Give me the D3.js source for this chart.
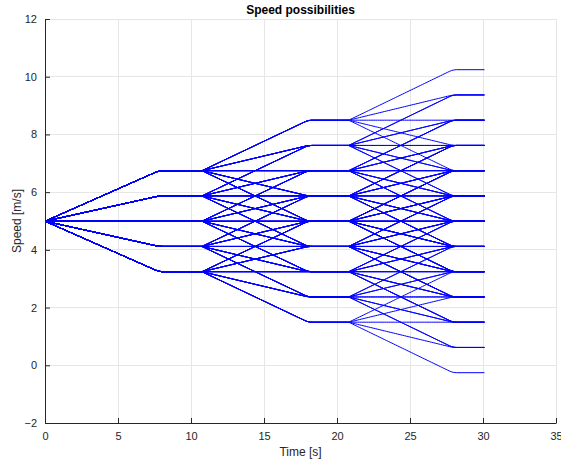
<!DOCTYPE html>
<html>
<head>
<meta charset="utf-8">
<script src="https://cdn.jsdelivr.net/npm/d3@7"></script>
<style>
  body { margin: 0; background: #fff; }
  svg { display: block; font-family: "Liberation Sans", Arial, Helvetica, sans-serif; }
</style>
</head>
<body>
<svg id="chart" width="561" height="464"></svg>
<script>
// ---- data ----
const initialSpeed = 5;                 // m/s
const speedStep = 0.875;                // m/s per level
const levelChanges = [-2, -1, 0, 1, 2]; // allowed level changes per stage
// stage timing: transition start and transition end (plateau start)
const transitionStarts = [0, 10.75, 20.8];
const transitionEnds = [8.1, 18.3, 28.2];
const endTime = 30.1;
const xTicks = [0, 5, 10, 15, 20, 25, 30, 35];
const yTicks = [-2, 0, 2, 4, 6, 8, 10, 12];

// ---- layout ----
const svg = d3.select("#chart");
const margin = { left: 45, right: 5, top: 19, bottom: 41 };
const W = 561, H = 464;
const x = d3.scaleLinear().domain([0, 35]).range([margin.left, W - margin.right]);
const y = d3.scaleLinear().domain([-2, 12]).range([H - margin.bottom, margin.top]);

// grid
svg.append("g").selectAll("line").data(xTicks).join("line")
  .attr("x1", d => x(d)).attr("x2", d => x(d))
  .attr("y1", y(-2)).attr("y2", y(12))
  .attr("stroke", "#e6e6e6").attr("stroke-width", 1).attr("shape-rendering", "crispEdges");
svg.append("g").selectAll("line").data(yTicks).join("line")
  .attr("x1", x(0)).attr("x2", x(35))
  .attr("y1", d => y(d)).attr("y2", d => y(d))
  .attr("stroke", "#e6e6e6").attr("stroke-width", 1).attr("shape-rendering", "crispEdges");

// ---- paths ----
const smoothFrac = 0.07;
const kSlope = 1 / (1 - smoothFrac / 2);
function ease(s) {
  if (s <= 1 - smoothFrac) return kSlope * s;
  const u = s - (1 - smoothFrac);
  return kSlope * (1 - smoothFrac) + kSlope * (u - u * u / (2 * smoothFrac));
}

function buildPath(changes) {
  const pts = [];
  let lvl = 0;
  for (let st = 0; st < changes.length; st++) {
    const t0 = transitionStarts[st], t1 = transitionEnds[st];
    const from = lvl, to = lvl + changes[st];
    const n = 60;
    for (let i = 0; i <= n; i++) {
      const s = i / n;
      pts.push([t0 + (t1 - t0) * s, initialSpeed + speedStep * (from + (to - from) * ease(s))]);
    }
    lvl = to;
    const tNext = st + 1 < transitionStarts.length ? transitionStarts[st + 1] : endTime;
    pts.push([tNext, initialSpeed + speedStep * lvl]);
  }
  return pts;
}

const allPaths = [];
for (const a of levelChanges)
  for (const b of levelChanges)
    for (const c of levelChanges)
      allPaths.push(buildPath([a, b, c]));

const line = d3.line().x(d => x(d[0])).y(d => y(d[1]) + 0.2);
svg.append("g").selectAll("path").data(allPaths).join("path")
  .attr("d", line)
  .attr("fill", "none")
  .attr("stroke", "rgb(0,0,255)")
  .attr("stroke-width", 1);

// ---- axes ----
const axisColor = "#262626";
const xAxis = svg.append("g").attr("transform", `translate(0,${y(-2)})`)
  .call(d3.axisBottom(x).tickValues(xTicks).tickSize(-5).tickPadding(9).tickSizeOuter(0));
const yAxis = svg.append("g").attr("transform", `translate(${x(0)},0)`)
  .call(d3.axisLeft(y).tickValues(yTicks).tickSize(-5).tickPadding(8).tickSizeOuter(0));
[xAxis, yAxis].forEach(g => {
  g.select(".domain").attr("stroke", axisColor);
  g.selectAll(".tick line").attr("stroke", axisColor);
  g.selectAll("text").attr("fill", axisColor).style("font-size", "11px");
});

// labels
svg.append("text").attr("x", x(17.5)).attr("y", 14)
  .attr("text-anchor", "middle").attr("font-weight", "bold")
  .style("font-size", "12px").attr("fill", "#000").text("Speed possibilities");
svg.append("text").attr("x", x(17.5)).attr("y", 456)
  .attr("text-anchor", "middle").style("font-size", "12px").attr("fill", axisColor).text("Time [s]");
svg.append("text").attr("transform", `translate(21,${y(5)}) rotate(-90)`)
  .attr("text-anchor", "middle").style("font-size", "12px").attr("fill", axisColor).text("Speed [m/s]");
</script>
</body>
</html>
